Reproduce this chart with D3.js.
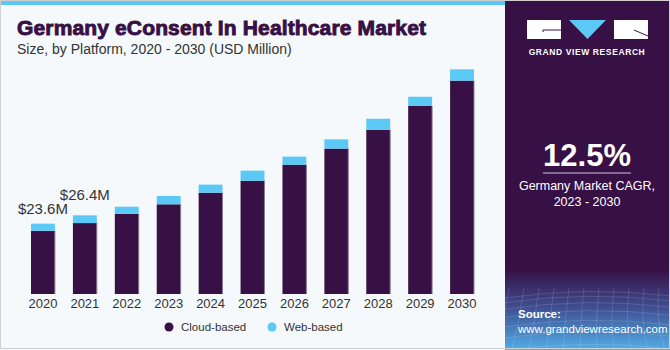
<!DOCTYPE html>
<html>
<head>
<meta charset="utf-8">
<script src="https://cdn.jsdelivr.net/npm/d3@7"></script>
<style>
  body { margin: 0; }
  svg { display: block; font-family: "Liberation Sans", Arial, sans-serif; }
</style>
</head>
<body>
<div id="container"></div>
<script>
// data (USD Million)
const years = ["2020", "2021", "2022", "2023", "2024", "2025", "2026", "2027", "2028", "2029", "2030"];
const cloudBased = [21.2, 23.8, 26.9, 30.1, 34.0, 38.0, 43.4, 48.8, 55.1, 63.1, 71.6];
const webBased = [2.4, 2.6, 2.4, 2.8, 2.7, 3.4, 2.7, 3.1, 3.7, 3.1, 3.8];
const valueLabels = [{ year: "2020", text: "$23.6M", dy: -10 }, { year: "2021", text: "$26.4M", dy: -15 }];
const seriesNames = ["Cloud-based", "Web-based"];
const colors = ["#371045", "#5bc8f5"];

const width = 670;
const height = 350;
const panelX = 505;

const svg = d3.select("#container").append("svg")
    .attr("width", width)
    .attr("height", height);

const defs = svg.append("defs");
const grad = defs.append("linearGradient")
    .attr("id", "panelGrad")
    .attr("x1", 0).attr("y1", 0).attr("x2", 0).attr("y2", 1);
grad.append("stop").attr("offset", "0%").attr("stop-color", "#371045");
grad.append("stop").attr("offset", "77%").attr("stop-color", "#371045");
grad.append("stop").attr("offset", "88%").attr("stop-color", "#3f4f92");
grad.append("stop").attr("offset", "100%").attr("stop-color", "#52ade6");

// backgrounds
svg.append("rect")
    .attr("width", width).attr("height", height)
    .attr("fill", "#f5f9fc");
svg.append("rect")
    .attr("width", panelX).attr("height", 5)
    .attr("fill", "#5bc8f5");
svg.append("rect")
    .attr("x", panelX).attr("width", width - panelX).attr("height", height)
    .attr("fill", "url(#panelGrad)");

// faint grid in the lower part of the side panel
const gridG = svg.append("g")
    .attr("stroke", "#ffffff")
    .attr("stroke-opacity", 0.13)
    .attr("fill", "none");
for (let i = 0; i < 9; i++) {
  const yy = 292 + i * i * 0.8 + i * 4;
  gridG.append("path")
      .attr("d", `M${panelX},${yy + 6} Q${panelX + 80},${yy - 6} ${width},${yy + 4}`);
}
for (let i = 0; i < 12; i++) {
  const xx = panelX + i * 15;
  gridG.append("path")
      .attr("d", `M${xx + 4},288 Q${xx},320 ${xx - 10 + i * 2},350`);
}

// title
svg.append("text")
    .attr("x", 17).attr("y", 35)
    .attr("font-size", 21)
    .attr("font-weight", "bold")
    .attr("fill", "#371045")
    .attr("stroke", "#371045")
    .attr("stroke-width", 0.9)
    .attr("textLength", 409)
    .text("Germany eConsent In Healthcare Market");
svg.append("text")
    .attr("x", 17).attr("y", 54)
    .attr("font-size", 14)
    .attr("fill", "#333333")
    .text("Size, by Platform, 2020 - 2030 (USD Million)");

// scales
const x = d3.scaleBand()
    .domain(years)
    .range([22, 483])
    .paddingInner(0.43)
    .paddingOuter(0.215);

const y = d3.scaleLinear()
    .domain([0, 80])
    .range([294, 294 - 80 * 2.98]);

const table = years.map((yr, i) => ({ year: yr, cloud: cloudBased[i], web: webBased[i] }));
const stacked = d3.stack().keys(["cloud", "web"])(table);

const barG = svg.append("g");
barG.selectAll("g")
  .data(stacked)
  .join("g")
    .attr("fill", (d, i) => colors[i])
  .selectAll("rect")
  .data(d => d)
  .join("rect")
    .attr("x", d => x(d.data.year))
    .attr("y", d => y(d[1]))
    .attr("width", x.bandwidth())
    .attr("height", d => y(d[0]) - y(d[1]));

// subtle light edge on the right of each bar
barG.append("g").selectAll("line")
  .data(table)
  .join("line")
    .attr("x1", d => x(d.year) + x.bandwidth())
    .attr("x2", d => x(d.year) + x.bandwidth())
    .attr("y1", d => y(d.cloud))
    .attr("y2", y(0))
    .attr("stroke", "#8a7a96")
    .attr("stroke-width", 1);

// value labels
svg.append("g").selectAll("text")
  .data(valueLabels)
  .join("text")
    .attr("x", d => x(d.year) + x.bandwidth() / 2)
    .attr("y", d => {
      const r = table.find(t => t.year === d.year);
      return y(r.cloud + r.web) + d.dy;
    })
    .attr("text-anchor", "middle")
    .attr("font-size", 15)
    .attr("fill", "#333333")
    .text(d => d.text);

// x axis
const xAxis = svg.append("g")
    .attr("transform", `translate(0,${y(0)})`)
    .call(d3.axisBottom(x).tickSize(0).tickPadding(5));
xAxis.select(".domain").remove();
xAxis.selectAll("text")
    .attr("font-size", 13)
    .attr("font-family", "Liberation Sans, Arial, sans-serif")
    .attr("fill", "#333333");

// legend
const legendX = [169, 272];
const legend = svg.append("g").selectAll("g")
  .data(seriesNames)
  .join("g")
    .attr("transform", (d, i) => `translate(${legendX[i]},327)`);
legend.append("circle")
    .attr("r", 4.5)
    .attr("fill", (d, i) => colors[i]);
legend.append("text")
    .attr("x", 12)
    .attr("y", 4)
    .attr("font-size", 11.5)
    .attr("fill", "#333333")
    .text(d => d);

// logo
const logo = svg.append("g");
logo.append("rect").attr("x", 527).attr("y", 20).attr("width", 34).attr("height", 19).attr("fill", "#ffffff");
logo.append("path").attr("d", "M543,32 L543,30 L561,30").attr("stroke", "#371045").attr("stroke-width", 1).attr("fill", "none");
logo.append("path").attr("d", "M569,20 L606,20 L587.5,39 Z").attr("fill", "#5bc8f5");
logo.append("rect").attr("x", 614).attr("y", 20).attr("width", 34).attr("height", 19).attr("fill", "#ffffff");
logo.append("path").attr("d", "M634,30 L648,36").attr("stroke", "#371045").attr("stroke-width", 1);
logo.append("text")
    .attr("x", 587).attr("y", 55)
    .attr("text-anchor", "middle")
    .attr("font-size", 8.5)
    .attr("font-weight", "bold")
    .attr("letter-spacing", 0.6)
    .attr("fill", "#ffffff")
    .text("GRAND VIEW RESEARCH");

// CAGR block
svg.append("text")
    .attr("x", 587).attr("y", 166)
    .attr("text-anchor", "middle")
    .attr("font-size", 31)
    .attr("font-weight", "bold")
    .attr("fill", "#ffffff")
    .text("12.5%");
svg.append("line")
    .attr("x1", 543).attr("x2", 631)
    .attr("y1", 173).attr("y2", 173)
    .attr("stroke", "#cfc6d8").attr("stroke-width", 1);
svg.append("text")
    .attr("x", 587).attr("y", 190)
    .attr("text-anchor", "middle")
    .attr("font-size", 12.5)
    .attr("fill", "#ffffff")
    .text("Germany Market CAGR,");
svg.append("text")
    .attr("x", 587).attr("y", 206)
    .attr("text-anchor", "middle")
    .attr("font-size", 12.5)
    .attr("fill", "#ffffff")
    .text("2023 - 2030");

// source
svg.append("text")
    .attr("x", 518).attr("y", 318)
    .attr("font-size", 11.5)
    .attr("font-weight", "bold")
    .attr("fill", "#ffffff")
    .text("Source:");
svg.append("text")
    .attr("x", 518).attr("y", 333)
    .attr("font-size", 11.5)
    .attr("fill", "#ffffff")
    .text("www.grandviewresearch.com");

// outer border
svg.append("rect")
    .attr("x", 0.5).attr("y", 0.5)
    .attr("width", width - 1).attr("height", height - 2)
    .attr("fill", "none")
    .attr("stroke", "#d0d0d0");
</script>
</body>
</html>
